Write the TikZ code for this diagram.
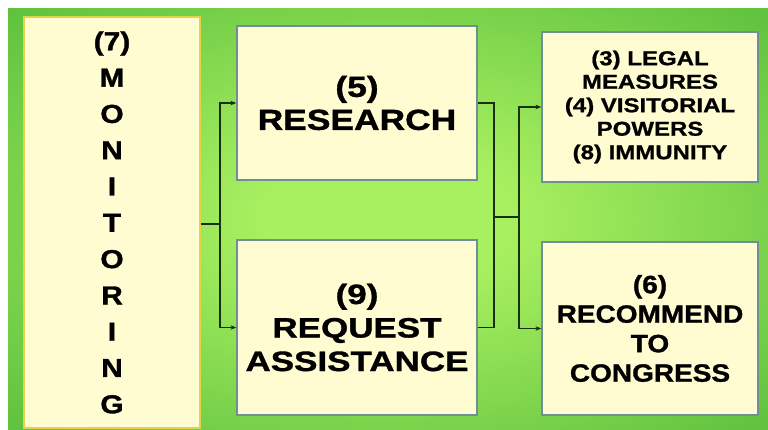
\documentclass[tikz,border=0pt]{standalone}
\usepackage{fontspec}
\setmainfont{Liberation Sans}
\newfontfamily\fmon[FakeStretch=1.15,FakeBold=1.2]{Liberation Sans}
\newfontfamily\fres[FakeStretch=1.22,FakeBold=1.2]{Liberation Sans}
\newfontfamily\freq[FakeStretch=1.25,FakeBold=1.2]{Liberation Sans}
\newfontfamily\fleg[FakeStretch=1.2,FakeBold=1]{Liberation Sans}
\newfontfamily\frec[FakeStretch=1.12,FakeBold=1.2]{Liberation Sans}
\usetikzlibrary{arrows.meta}
\definecolor{bglight}{HTML}{A8F060}
\definecolor{bgdark}{HTML}{38A82C}
\definecolor{boxfill}{HTML}{FFFCD2}
\definecolor{boxline}{HTML}{6F8F98}
\definecolor{monline}{HTML}{E2D448}
\definecolor{conn}{HTML}{1B3010}
\pgfdeclareradialshading{bgshade}{\pgfpoint{0bp}{0bp}}{color(0bp)=(bglight); color(8bp)=(bglight); color(50bp)=(bgdark); color(60bp)=(bgdark)}
\tikzset{
  box/.style={draw=boxline, line width=1.2pt, fill=boxfill, align=center, inner sep=0pt, text=black},
  conline/.style={draw=conn, line width=1.3pt},
  arr/.style={conline, -{Stealth[length=6pt,width=4.5pt]}}
}
\begin{document}
\begin{tikzpicture}[x=1pt,y=-1pt]
\useasboundingbox (0,0) rectangle (768,430);
\fill[white] (0,0) rectangle (768,430);
\shade[shading=bgshade] (8,9) rectangle (768,430);
\node[box, draw=monline, minimum width=176pt, minimum height=411pt, font=\fmon\bfseries\fontsize{26}{36.3}\selectfont] (mon) at (112,222.5)
  {(7)\\M\\O\\N\\I\\T\\O\\R\\I\\N\\G};
\node[box, minimum width=240pt, minimum height=154pt, font=\fres\bfseries\fontsize{29}{33}\selectfont] (res) at (357,103)
  {(5)\\RESEARCH};
\node[box, minimum width=240pt, minimum height=175pt, font=\freq\bfseries\fontsize{28}{33.5}\selectfont] (req) at (357,327.5)
  {(9)\\REQUEST\\ASSISTANCE};
\node[box, minimum width=216pt, minimum height=150pt, font=\fleg\bfseries\fontsize{20}{23.5}\selectfont] (leg) at (650,107)
  {(3) LEGAL\\MEASURES\\(4) VISITORIAL\\POWERS\\(8) IMMUNITY};
\node[box, minimum width=216pt, minimum height=173pt, font=\frec\bfseries\fontsize{25}{29.5}\selectfont] (rec) at (650,328.5)
  {(6)\\RECOMMEND\\TO\\CONGRESS};
\coordinate (j1) at (220,224);
\coordinate (j2) at (494,217);
\coordinate (j3) at (519,217);
\draw[conline] (j1 -| mon.east) -- (j1);
\draw[arr] (j1) |- (res.west);
\draw[arr] (j1) |- (req.west);
\draw[conline] (res.east) -| (j2) |- (req.east);
\draw[conline] (j2) -- (j3);
\draw[arr] (j3) |- (leg.west);
\draw[arr] (j3) |- (rec.west);
\end{tikzpicture}
\end{document}
